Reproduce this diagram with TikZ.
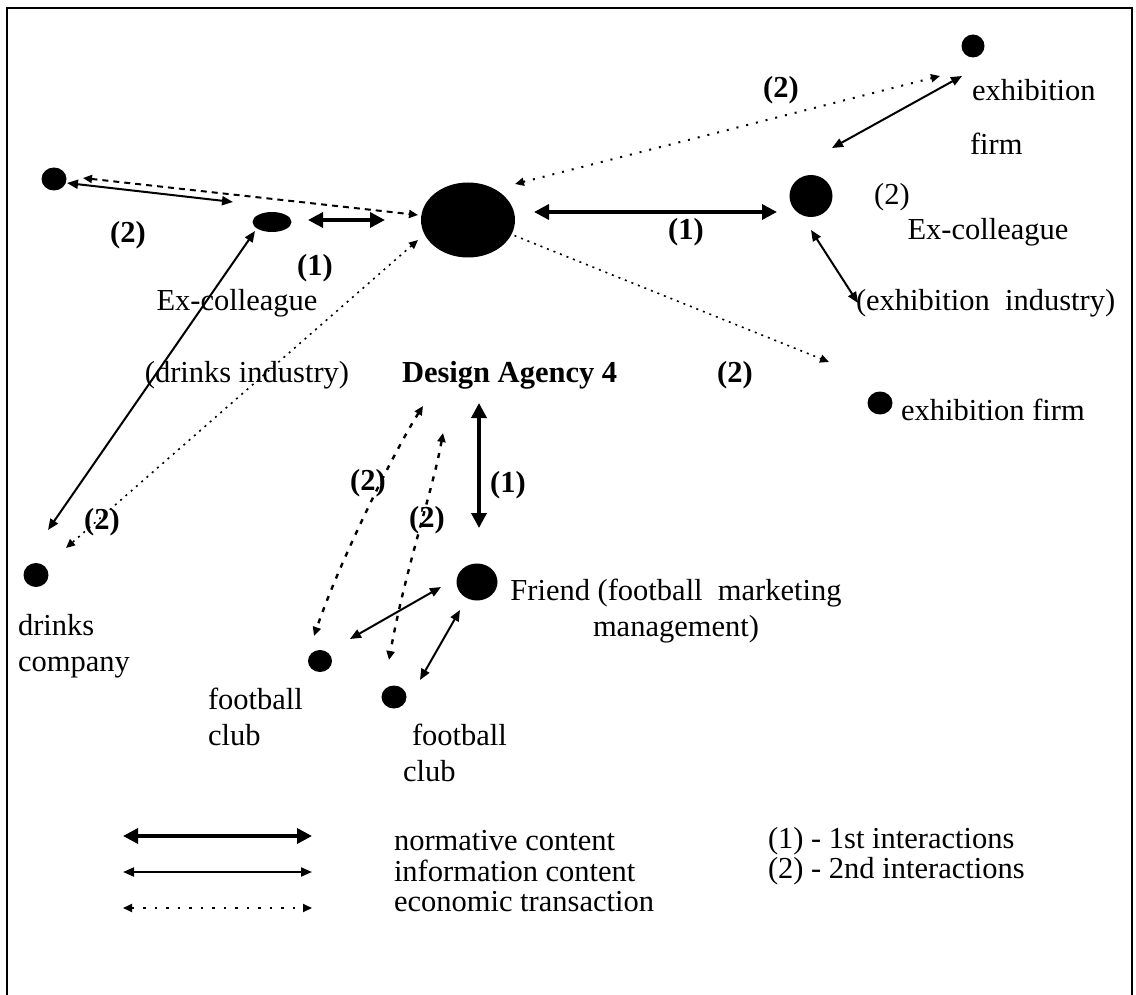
\documentclass[tikz,border=0pt]{standalone}
\usepackage{fontspec}
\setmainfont{Liberation Serif}
\usetikzlibrary{arrows.meta,shapes.geometric}

\begin{document}
\begin{tikzpicture}[x=1pt,y=-1pt,
  every node/.style={inner sep=0pt, outer sep=0pt, font=\fontsize{30.5}{36}\selectfont},
  dot/.style={ellipse, fill=black, draw=none, inner sep=0pt},
  lbl/.style={font=\fontsize{30.5}{36}\selectfont\bfseries},
  norm/.style={line width=3.5pt,
    arrows={Triangle[length=15pt,width=15pt]-Triangle[length=15pt,width=15pt]}},
  info/.style={line width=2pt,
    arrows={Triangle[length=11pt,width=9pt]-Triangle[length=11pt,width=9pt]}},
  econ/.style={line width=2pt, dash pattern=on 2pt off 5pt,
    arrows={Triangle[length=9pt,width=8pt]-Triangle[length=9pt,width=8pt]}},
  econone/.style={econ, arrows={-Triangle[length=9pt,width=8pt]}},
]
\useasboundingbox (0,0) rectangle (1136,995);

% frame (open at the bottom)
\draw[line width=2pt] (7,995) -- (7,8) -- (1132,8) -- (1132,995);

% actors
\node[dot, minimum width=94pt, minimum height=75pt] (agency) at (468,220) {};
\node[dot, minimum width=25pt, minimum height=23pt] (tl) at (54,179) {};
\node[dot, minimum width=39pt, minimum height=20pt] (dex) at (272,222) {};
\node[dot, minimum width=43pt, minimum height=42pt] (rex) at (811,196) {};
\node[dot, minimum width=23pt, minimum height=23pt] (trf) at (973,46) {};
\node[dot, minimum width=25pt, minimum height=23pt] (ef) at (880,403) {};
\node[dot, minimum width=41pt, minimum height=37pt] (friend) at (477,582) {};
\node[dot, minimum width=25pt, minimum height=24pt] (dco) at (36,575) {};
\node[dot, minimum width=24pt, minimum height=22pt] (c1) at (320,661) {};
\node[dot, minimum width=25pt, minimum height=23pt] (c2) at (394,697) {};

% texts
\node (exf1) [anchor=west] at (972,90) {exhibition};
\node (exf2) [anchor=west] at (970,144) {firm};
\node (rexn) at (892,197) {(2)};
\node (rexl) at (988,232) {Ex-colleague};
\node (rexi) [anchor=west] at (856,303) {(exhibition\ \ industry)};
\node (dexl) at (237,303) {Ex-colleague};
\node (dexi) at (247,375) {(drinks industry)};
\node[lbl] (agl) [anchor=west] at (402,375) {Design Agency 4};
\node (efl) [anchor=west] at (901,410) {exhibition firm};
\node (frl) [align=center] at (676,611) {Friend (football\ \ marketing\\management)};
\node (dcol) [anchor=west, align=left] at (18,646) {drinks\\company};
\node (c1l) [anchor=west, align=left] at (208,717) {football\\club};
\node (c2l) [anchor=west, align=left] at (403,753) {\hspace*{9pt}football\\club};

% interaction numbers
\node[lbl] (na) at (781,90) {(2)};
\node[lbl] (nb) at (128,235) {(2)};
\node[lbl] (nc) at (315,268) {(1)};
\node[lbl] (nd) at (686,232) {(1)};
\node[lbl] (ne) at (735,375) {(2)};
\node[lbl] (nf) at (368,483) {(2)};
\node[lbl] (ng) at (508,485) {(1)};
\node[lbl] (nh) at (427,520) {(2)};
\node[lbl] (ni) at (102,522) {(2)};

% connector ends
\coordinate (n1a) at (534,212); \coordinate (n1b) at (777,212);
\coordinate (n2a) at (308,220); \coordinate (n2b) at (385,220);
\coordinate (n3a) at (479,403); \coordinate (n3b) at (479,528);
\coordinate (i1a) at (67,183);  \coordinate (i1b) at (233,202);
\coordinate (i2a) at (255,231); \coordinate (i2b) at (48,530);
\coordinate (i3a) at (832,148); \coordinate (i3b) at (962,76);
\coordinate (i4a) at (811,230); \coordinate (i4b) at (858,303);
\coordinate (i5a) at (441,587); \coordinate (i5b) at (350,639);
\coordinate (i6a) at (460,610); \coordinate (i6b) at (420,680);
\coordinate (e1a) at (83,178);  \coordinate (e1b) at (418,215);
\coordinate (e2a) at (515,184); \coordinate (e2b) at (940,76);
\coordinate (e3a) at (418,240); \coordinate (e3b) at (66,548);
\coordinate (e4a) at (508,233); \coordinate (e4b) at (829,362);
\coordinate (e5a) at (423,406); \coordinate (e5b) at (314,636);
\coordinate (e6a) at (443,433); \coordinate (e6b) at (389,660);

% normative content
\draw[norm] (n1a) -- (n1b);
\draw[norm] (n2a) -- (n2b);
\draw[norm] (n3a) -- (n3b);
% information content
\draw[info] (i1a) -- (i1b);
\draw[info] (i2a) -- (i2b);
\draw[info] (i3a) -- (i3b);
\draw[info] (i4a) -- (i4b);
\draw[info] (i5a) -- (i5b);
\draw[info] (i6a) -- (i6b);
% economic transactions
\draw[econ, dash pattern=on 6pt off 5pt] (e1a) -- (e1b);
\draw[econ, dash pattern=on 2pt off 8pt] (e2a) -- (e2b);
\draw[econ, line width=1.6pt] (e3a) -- (e3b);
\draw[econone, line width=1.6pt] (e4a) -- (e4b);
\draw[econ, line width=2.4pt, dash pattern=on 5pt off 7pt] (e5a) .. controls (395,450) and (340,560) .. (e5b);
\draw[econ, line width=2.4pt, dash pattern=on 5pt off 7pt] (e6a) .. controls (433,490) and (405,570) .. (e6b);

% legend
\coordinate (g1a) at (123,836); \coordinate (g1b) at (312,836);
\coordinate (g2a) at (123,872); \coordinate (g2b) at (312,872);
\coordinate (g3a) at (123,908); \coordinate (g3b) at (312,908);
\draw[norm] (g1a) -- (g1b);
\draw[info] (g2a) -- (g2b);
\draw[econ, dash pattern=on 2.5pt off 9pt] (g3a) -- (g3b);
\node (gt1) [anchor=west] at (394,841) {normative content};
\node (gt2) [anchor=west] at (394,871) {information content};
\node (gt3) [anchor=west] at (394,902) {economic transaction};
\node (gt4) [anchor=west] at (768,841) {(1) - 1st interactions};
\node (gt5) [anchor=west] at (768,871) {(2) - 2nd interactions};
\end{tikzpicture}
\end{document}
